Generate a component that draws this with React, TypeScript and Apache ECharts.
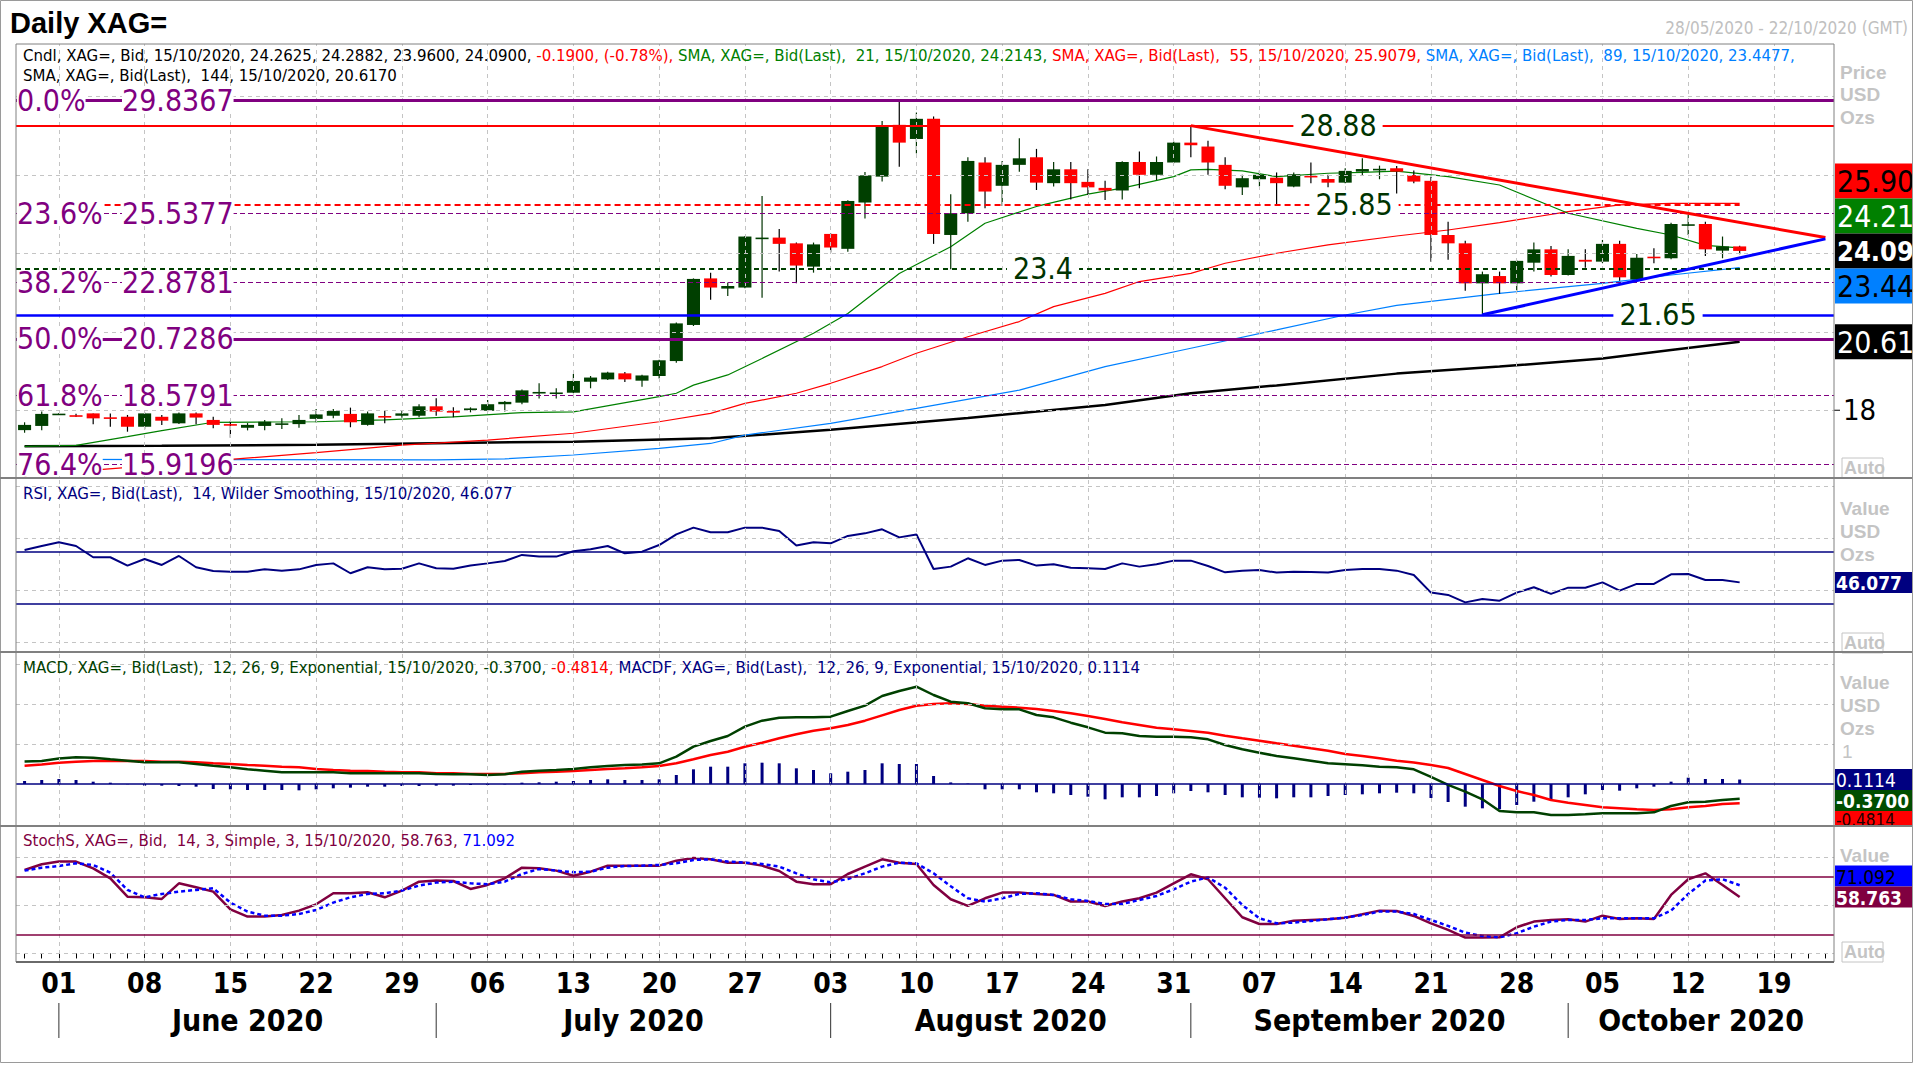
import React, { useEffect, useRef } from 'react';
import * as echarts from 'echarts';

const NARROW = '"DejaVu Sans Condensed","Liberation Sans Narrow","Arial Narrow",sans-serif';
const SANS = '"Liberation Sans",Arial,sans-serif';

// ---- categories: weekdays 28/05/2020 - 22/10/2020 ----
function buildDates(): string[] {
  const out: string[] = [];
  const d = new Date(Date.UTC(2020, 4, 28));
  const end = Date.UTC(2020, 9, 22);
  while (d.getTime() <= end) {
    const wd = d.getUTCDay();
    if (wd !== 0 && wd !== 6) out.push(d.toISOString().slice(0, 10));
    d.setUTCDate(d.getUTCDate() + 1);
  }
  return out;
}
const DATES = buildDates();
const isMonday = (s: string) => new Date(s + 'T00:00:00Z').getUTCDay() === 1;
const MONTH_NAMES = ['January', 'February', 'March', 'April', 'May', 'June', 'July', 'August', 'September', 'October', 'November', 'December'];

// ---- candles (28/05 .. 15/10) ----
const OPEN = [17.24, 17.40, 17.86, 17.81, 17.88, 17.73, 17.75, 17.37, 17.75, 17.50,
  17.88, 17.63, 17.47, 17.33, 17.40, 17.44, 17.47, 17.67, 17.79, 17.86,
  17.44, 17.78, 17.79, 17.79, 18.15, 17.97, 18.02, 17.98, 18.23, 18.29,
  18.67, 18.66, 18.67, 19.09, 19.18, 19.41, 19.13, 19.31, 19.88, 21.26,
  23.04, 22.65, 22.69, 24.57, 24.60, 24.38, 23.49, 24.74, 24.17, 25.94,
  26.93, 28.91, 28.37, 29.14, 24.70, 25.53, 27.47, 26.58, 27.38, 27.67,
  26.68, 27.21, 26.73, 26.50, 26.40, 27.49, 27.00, 27.47, 28.23, 28.08,
  27.38, 26.52, 26.83, 26.89, 26.55, 26.96, 26.84, 26.70, 27.12, 27.21,
  27.25, 26.99, 26.77, 24.70, 24.38, 22.85, 23.13, 22.85, 23.64, 24.15,
  23.17, 23.75, 23.68, 24.36, 23.00, 23.87, 23.81, 25.06, 25.12, 24.10, 24.2625];
const CLOSE = [17.44, 17.86, 17.87, 17.80, 17.69, 17.72, 17.37, 17.88, 17.60, 17.88,
  17.72, 17.44, 17.44, 17.44, 17.56, 17.50, 17.63, 17.84, 17.97, 17.54,
  17.88, 17.74, 17.88, 18.15, 17.95, 17.91, 18.07, 18.23, 18.32, 18.76,
  18.70, 18.68, 19.12, 19.25, 19.44, 19.18, 19.33, 19.91, 21.32, 23.02,
  22.69, 22.75, 24.64, 24.60, 24.36, 23.53, 24.34, 24.22, 26.00, 26.98,
  28.84, 28.23, 29.14, 24.74, 25.53, 27.53, 26.36, 27.38, 27.63, 26.70,
  27.21, 26.68, 26.52, 26.40, 27.49, 27.00, 27.49, 28.23, 28.13, 27.47,
  26.58, 26.87, 27.00, 26.68, 27.02, 26.91, 26.70, 27.15, 27.22, 27.23,
  27.12, 26.74, 24.70, 24.38, 22.85, 23.20, 22.85, 23.71, 24.15, 23.17,
  23.90, 23.68, 24.36, 23.08, 23.83, 23.81, 25.12, 25.11, 24.15, 24.26, 24.09];
const LOW = [17.14, 17.24, 17.85, 17.74, 17.46, 17.37, 17.18, 17.27, 17.44, 17.47,
  17.46, 17.31, 16.95, 17.23, 17.24, 17.28, 17.33, 17.54, 17.69, 17.35,
  17.41, 17.50, 17.71, 17.73, 17.79, 17.73, 17.92, 17.95, 17.95, 18.23,
  18.45, 18.45, 18.65, 18.84, 19.16, 19.08, 18.90, 19.21, 19.82, 21.22,
  22.22, 22.37, 22.66, 22.30, 23.30, 22.85, 23.26, 24.03, 24.06, 25.33,
  26.74, 27.31, 27.82, 24.36, 23.39, 25.21, 25.72, 25.81, 27.12, 26.42,
  26.55, 26.06, 26.23, 26.04, 26.06, 26.49, 26.80, 27.44, 27.67, 27.00,
  26.45, 26.23, 26.55, 25.81, 26.52, 26.68, 26.52, 26.68, 26.96, 26.83,
  26.23, 26.68, 23.68, 23.75, 22.57, 21.65, 22.45, 22.57, 23.30, 23.11,
  23.15, 23.45, 23.62, 22.95, 22.92, 23.62, 23.77, 24.70, 23.90, 23.81, 23.96];
const HIGH = [17.54, 17.95, 17.89, 17.87, 17.88, 17.88, 17.82, 17.91, 17.82, 17.91,
  17.91, 17.75, 17.59, 17.51, 17.63, 17.69, 17.82, 18.05, 18.05, 18.10,
  17.95, 17.97, 17.97, 18.23, 18.46, 18.11, 18.11, 18.39, 18.35, 18.79,
  19.03, 18.84, 19.39, 19.31, 19.47, 19.46, 19.36, 19.93, 21.35, 23.04,
  23.26, 22.88, 24.66, 26.19, 24.93, 24.41, 24.41, 24.76, 26.03, 27.11,
  29.06, 29.8367, 29.38, 29.23, 26.26, 27.67, 27.67, 27.53, 28.40, 27.99,
  27.49, 27.49, 27.21, 26.77, 27.52, 27.89, 27.70, 28.27, 28.88, 28.30,
  27.67, 27.00, 27.16, 27.09, 27.09, 27.47, 27.00, 27.25, 27.63, 27.35,
  27.34, 27.16, 26.93, 25.21, 24.48, 23.30, 23.30, 23.73, 24.41, 24.28,
  24.15, 24.15, 24.51, 24.48, 23.97, 24.19, 25.17, 25.47, 25.21, 24.64, 24.2882];

// ---- moving averages [index, value] ----
const SMA21 = [[0, 16.62], [3, 16.66], [6, 16.99], [8, 17.22], [11, 17.54], [14, 17.55], [17, 17.56], [21, 17.63], [25, 17.75], [29, 17.91], [32, 17.94], [37, 18.52], [38, 18.65], [39, 18.96], [41, 19.35], [43, 19.98], [46, 20.94], [48, 21.70], [51, 23.23], [54, 24.25], [56, 25.15], [59, 25.79], [62, 26.26], [64, 26.49], [67, 26.93], [68, 27.19], [69, 27.21], [71, 27.15], [73, 26.93], [76, 27.06], [78, 27.09], [80, 27.14], [83, 26.93], [86, 26.61], [90, 25.53], [94, 24.95], [96, 24.70], [98, 24.30], [100, 24.21]];
const SMA55 = [[0, 15.50], [4, 15.71], [12, 16.12], [17, 16.38], [22, 16.67], [27, 16.86], [32, 17.12], [37, 17.56], [40, 17.88], [42, 18.26], [45, 18.65], [47, 19.03], [50, 19.67], [52, 20.18], [55, 20.81], [58, 21.39], [60, 21.96], [63, 22.47], [65, 22.92], [68, 23.23], [70, 23.62], [73, 24.00], [76, 24.32], [80, 24.66], [83, 24.89], [86, 25.17], [90, 25.59], [93, 25.85], [96, 25.91], [100, 25.91]];
const SMA89 = [[0, 16.12], [12, 16.11], [24, 16.10], [28, 16.14], [32, 16.29], [37, 16.54], [40, 16.73], [42, 17.05], [47, 17.50], [52, 18.07], [58, 18.77], [63, 19.67], [68, 20.37], [73, 21.07], [77, 21.64], [80, 22.01], [86, 22.47], [92, 22.85], [96, 23.17], [100, 23.45]];
const SMA144 = [[0, 16.62], [8, 16.64], [17, 16.68], [25, 16.75], [32, 16.80], [40, 16.93], [47, 17.25], [55, 17.70], [63, 18.20], [68, 18.65], [73, 18.95], [80, 19.40], [86, 19.67], [92, 19.98], [96, 20.30], [100, 20.62]];

// ---- trend lines ----
const DOWN_TREND = [[68, 28.88], [105, 24.60]];
const UP_TREND = [[85, 21.65], [105, 24.55]];

// ---- horizontal levels ----
const FIB_LEVELS = [29.8367, 25.5377, 22.8781, 20.7286, 18.5791, 15.9196];
const FIB_PCTS = ['0.0%', '23.6%', '38.2%', '50.0%', '61.8%', '76.4%'];
const LEVEL_LABELS = [
  { v: 28.88, text: '28.88', cx: 1338 },
  { v: 25.85, text: '25.85', cx: 1354 },
  { v: 23.4, text: '23.4', cx: 1043 },
  { v: 21.65, text: '21.65', cx: 1658 },
];
// right-axis value tags (price panel)
const TAGS = [
  { v: 25.9079, text: '25.90', bg: '#ff0000', c: '#000', w: 'normal', s: 30 },
  { v: 24.2143, text: '24.21', bg: '#008000', c: '#fff', w: 'normal', s: 30 },
  { v: 24.09, text: '24.09', bg: '#000000', c: '#fff', w: 'bold', s: 27 },
  { v: 23.4477, text: '23.44', bg: '#0080ff', c: '#000', w: 'normal', s: 30 },
  { v: 20.617, text: '20.61', bg: '#000000', c: '#fff', w: 'normal', s: 30 },
];

// ---- indicators ----
const RSI = [71.0, 74.0, 76.9, 74.1, 65.4, 65.4, 59.0, 64.1, 59.5, 66.4,
  57.7, 54.8, 54.3, 54.3, 56.1, 55.1, 56.1, 59.5, 60.7, 53.1,
  57.7, 56.1, 56.6, 60.7, 56.9, 56.6, 59.0, 60.7, 62.5, 67.2,
  65.9, 65.9, 70.0, 71.5, 74.1, 68.4, 69.7, 74.8, 83.0, 88.2,
  84.6, 84.6, 88.2, 88.2, 85.6, 74.4, 76.9, 76.1, 81.8, 83.8,
  86.9, 80.7, 83.0, 56.4, 58.2, 64.6, 59.5, 62.8, 63.3, 59.0,
  60.0, 57.4, 56.9, 56.4, 60.7, 58.2, 60.0, 62.8, 62.8, 58.7,
  53.8, 55.1, 55.6, 53.6, 54.3, 54.1, 53.6, 55.6, 56.4, 56.4,
  55.1, 51.8, 38.2, 36.4, 30.7, 33.3, 32.0, 38.2, 42.3, 37.2,
  42.0, 42.0, 46.1, 39.7, 44.9, 44.9, 52.3, 52.5, 47.9, 47.9, 46.077];
const MACD = [0.56, 0.575, 0.64, 0.667, 0.658, 0.617, 0.583, 0.542, 0.542, 0.542,
  0.50, 0.458, 0.417, 0.367, 0.333, 0.292, 0.292, 0.292, 0.292, 0.267,
  0.267, 0.267, 0.267, 0.267, 0.25, 0.242, 0.242, 0.225, 0.242, 0.308,
  0.333, 0.35, 0.375, 0.417, 0.45, 0.475, 0.49, 0.517, 0.683, 0.933,
  1.075, 1.20, 1.433, 1.583, 1.658, 1.667, 1.667, 1.683, 1.825, 1.958,
  2.20, 2.325, 2.433, 2.225, 2.058, 2.017, 1.892, 1.867, 1.867, 1.725,
  1.667, 1.533, 1.417, 1.283, 1.267, 1.20, 1.183, 1.183, 1.167, 1.117,
  0.975, 0.867, 0.783, 0.70, 0.642, 0.583, 0.517, 0.492, 0.467, 0.433,
  0.417, 0.367, 0.18, -0.02, -0.192, -0.383, -0.675, -0.708, -0.708, -0.775,
  -0.775, -0.758, -0.733, -0.733, -0.733, -0.708, -0.55, -0.458, -0.442, -0.40, -0.37];
const SIGNAL = [0.458, 0.49, 0.533, 0.558, 0.575, 0.583, 0.575, 0.575, 0.558, 0.558,
  0.542, 0.517, 0.50, 0.475, 0.458, 0.433, 0.417, 0.375, 0.35, 0.333,
  0.325, 0.308, 0.292, 0.292, 0.267, 0.267, 0.25, 0.25, 0.25, 0.267,
  0.292, 0.308, 0.325, 0.35, 0.375, 0.392, 0.417, 0.45, 0.517, 0.617,
  0.725, 0.808, 0.933, 1.033, 1.142, 1.242, 1.333, 1.392, 1.475, 1.583,
  1.717, 1.85, 1.958, 2.0, 2.017, 2.0, 1.958, 1.933, 1.908, 1.875,
  1.825, 1.767, 1.70, 1.625, 1.542, 1.475, 1.408, 1.367, 1.325, 1.283,
  1.208, 1.142, 1.083, 1.017, 0.958, 0.892, 0.833, 0.75, 0.70, 0.642,
  0.583, 0.54, 0.475, 0.40, 0.25, 0.10, -0.05, -0.175, -0.275, -0.40,
  -0.467, -0.525, -0.583, -0.608, -0.633, -0.65, -0.633, -0.583, -0.55, -0.50, -0.4814];
const HIST = [0.075, 0.10, 0.125, 0.10, 0.058, 0.033, -0.008, -0.042, -0.042, -0.05,
  -0.067, -0.125, -0.133, -0.15, -0.15, -0.15, -0.158, -0.133, -0.108, -0.092,
  -0.067, -0.067, -0.05, -0.05, -0.042, -0.042, -0.025, -0.025, -0.01, 0.033,
  0.042, 0.058, 0.075, 0.10, 0.117, 0.10, 0.10, 0.117, 0.225, 0.367,
  0.433, 0.433, 0.517, 0.533, 0.517, 0.392, 0.35, 0.267, 0.308, 0.35,
  0.517, 0.50, 0.50, 0.20, 0.04, 0.01, -0.133, -0.133, -0.133, -0.208,
  -0.233, -0.275, -0.317, -0.383, -0.333, -0.333, -0.30, -0.233, -0.175, -0.208,
  -0.275, -0.333, -0.342, -0.358, -0.333, -0.333, -0.30, -0.275, -0.258, -0.233,
  -0.217, -0.233, -0.35, -0.45, -0.567, -0.608, -0.633, -0.525, -0.442, -0.383,
  -0.333, -0.258, -0.15, -0.167, -0.108, -0.067, 0.058, 0.158, 0.125, 0.125, 0.1114];
const STOCH_K = [87.0, 92.9, 95.7, 95.7, 88.7, 78.3, 59.2, 58.5, 56.8, 73.1,
  68.9, 64.4, 46.0, 38.4, 38.4, 40.1, 44.6, 51.2, 62.7, 62.7,
  63.7, 58.5, 65.5, 74.8, 75.9, 75.5, 67.2, 71.4, 78.3, 89.4,
  88.7, 86.3, 81.0, 85.2, 91.5, 91.5, 91.5, 91.5, 96.7, 99.5,
  98.1, 94.6, 94.6, 91.5, 85.9, 74.8, 72.1, 72.1, 82.8, 90.5,
  98.1, 94.6, 93.2, 71.4, 56.5, 49.5, 57.5, 63.4, 63.4, 62.0,
  61.0, 54.1, 54.1, 49.5, 54.1, 57.5, 63.4, 73.1, 82.5, 77.3,
  57.5, 37.7, 30.7, 30.7, 34.2, 34.9, 35.6, 37.3, 40.8, 44.6,
  44.3, 39.1, 31.4, 24.5, 16.5, 16.5, 16.8, 27.3, 33.2, 34.9,
  35.6, 33.2, 39.4, 35.9, 36.6, 35.9, 61.0, 77.3, 83.5, 71.4, 58.763];
const STOCH_D = [86.3, 89.4, 91.1, 93.9, 92.2, 84.2, 66.2, 58.5, 62.0, 64.4,
  66.2, 67.9, 53.0, 43.6, 39.4, 39.4, 41.1, 45.3, 53.0, 58.5,
  62.0, 62.7, 65.5, 70.7, 73.8, 74.8, 73.1, 72.1, 74.8, 82.8,
  88.0, 86.3, 84.6, 85.2, 89.4, 91.1, 91.5, 92.2, 93.9, 97.4,
  98.1, 95.7, 94.6, 93.2, 90.5, 83.5, 77.3, 74.1, 77.6, 83.5,
  90.5, 94.6, 93.9, 83.5, 70.0, 57.5, 54.1, 57.5, 62.0, 62.7,
  61.0, 56.4, 54.7, 51.6, 51.6, 55.7, 59.9, 66.8, 74.8, 79.3,
  68.5, 50.5, 36.6, 31.4, 32.1, 33.9, 35.6, 37.3, 40.1, 43.6,
  43.6, 41.1, 34.9, 28.7, 21.7, 18.2, 16.8, 21.0, 27.9, 33.2,
  34.9, 34.9, 36.6, 36.6, 36.6, 36.6, 44.6, 62.0, 75.9, 77.3, 71.092];

// ---- panel gridlines / reference levels ----
const PRICE_GRID = [18, 21, 24, 27, 30];
const RSI_GRID = [0, 40, 80, 120];
const MACD_GRID = [1, 2, 3];
const STOCH_GRID = [0, 50, 100];
const RSI_LEVELS = [70, 30];
const STOCH_LEVELS = [80, 20];

const PANELS = [
  { top: 44, height: 434, min: 15.41, max: 32.0 },
  { top: 478, height: 174, min: -7.5, max: 126.4 },
  { top: 652, height: 174, min: -1.05, max: 3.3 },
  { top: 826, height: 136, min: -8.9, max: 132.8 },
];

const MONDAYS = DATES.filter(isMonday);

const BIG = 30;      // big annotation font
const HDR = 16.7;    // header font

function gridSeries(k: number, hv: number[]) {
  return {
    type: 'line', xAxisIndex: k, yAxisIndex: k, data: [], z: 1, silent: true,
    markLine: {
      silent: true, symbol: ['none', 'none'], label: { show: false }, animation: false,
      lineStyle: { color: '#c4c4c4', width: 1, type: [4, 4] },
      data: [...MONDAYS.map((m) => ({ xAxis: m })), ...hv.map((v) => ({ yAxis: v }))],
    },
  };
}

function buildOption(): any {
  const ml = (v: number, color: string, width: number, type: any) => ({ yAxis: v, lineStyle: { color, width, type } });
  return {
    animation: false,
    backgroundColor: '#ffffff',
    grid: PANELS.map((p) => ({ left: 16, right: 80, top: p.top, height: p.height })),
    xAxis: PANELS.map((_, k) => ({
      type: 'category', data: DATES, gridIndex: k, boundaryGap: true,
      axisLine: { show: false },
      axisTick: k === 3 ? { show: true, interval: 0, alignWithLabel: true, length: 5, lineStyle: { color: '#000' } } : { show: false },
      axisLabel: k === 3 ? {
        show: true, interval: (_i: number, v: string) => isMonday(v), formatter: (v: string) => v.slice(8, 10),
        fontFamily: NARROW, fontSize: 28, fontWeight: 'bold', color: '#000', margin: 7,
      } : { show: false },
      splitLine: { show: false },
    })),
    yAxis: PANELS.map((p, k) => ({
      type: 'value', gridIndex: k, min: p.min, max: p.max, position: 'right',
      axisLine: { show: false }, axisTick: { show: false }, axisLabel: { show: false }, splitLine: { show: false },
    })),
    series: [
      gridSeries(0, PRICE_GRID), gridSeries(1, RSI_GRID), gridSeries(2, MACD_GRID), gridSeries(3, STOCH_GRID),
      {
        type: 'line', xAxisIndex: 0, yAxisIndex: 0, data: [], z: 2, silent: true,
        markLine: {
          silent: true, symbol: ['none', 'none'], label: { show: false }, animation: false,
          data: [
            ml(FIB_LEVELS[0], '#800080', 3, 'solid'),
            ml(28.88, '#ff0000', 2, 'solid'),
            ml(FIB_LEVELS[1], '#800080', 1, [5, 3]),
            [{ coord: [0, 25.85], lineStyle: { color: '#ff0000', width: 2, type: [6, 4] } }, { coord: [100, 25.85] }],
            ml(23.4, '#004000', 2, [5, 4]),
            ml(FIB_LEVELS[2], '#800080', 1, [5, 3]),
            ml(21.65, '#0000ff', 2.5, 'solid'),
            ml(FIB_LEVELS[3], '#800080', 3, 'solid'),
            ml(FIB_LEVELS[4], '#800080', 1, [5, 3]),
            ml(FIB_LEVELS[5], '#800080', 1, [5, 3]),
          ],
        },
      },
      { type: 'line', xAxisIndex: 0, yAxisIndex: 0, data: SMA144, showSymbol: false, z: 3, lineStyle: { color: '#000', width: 2.5 } },
      { type: 'line', xAxisIndex: 0, yAxisIndex: 0, data: SMA89, showSymbol: false, z: 3, lineStyle: { color: '#0080ff', width: 1.2 } },
      { type: 'line', xAxisIndex: 0, yAxisIndex: 0, data: SMA55, showSymbol: false, z: 3, lineStyle: { color: '#ff0000', width: 1.2 } },
      { type: 'line', xAxisIndex: 0, yAxisIndex: 0, data: SMA21, showSymbol: false, z: 3, lineStyle: { color: '#008000', width: 1.2 } },
      {
        type: 'custom', xAxisIndex: 0, yAxisIndex: 0, z: 4,
        data: OPEN.map((o, i) => [i, o, CLOSE[i], LOW[i], HIGH[i]]),
        encode: { x: 0, y: [1, 2, 3, 4] },
        renderItem: (_p: any, api: any) => {
          const i = api.value(0);
          const o = api.value(1), c = api.value(2), l = api.value(3), h = api.value(4);
          const pO = api.coord([i, o]);
          const pC = api.coord([i, c]);
          const pL = api.coord([i, l]);
          const pH = api.coord([i, h]);
          const w = api.size([1, 0])[0] * 0.76;
          const up = c >= o;
          const top = Math.min(pO[1], pC[1]);
          const bh = Math.max(Math.abs(pO[1] - pC[1]), 1.6);
          return {
            type: 'group',
            children: [
              { type: 'line', shape: { x1: pH[0], y1: pH[1], x2: pL[0], y2: pL[1] }, style: { stroke: up ? '#003300' : '#000000', lineWidth: 1.2 } },
              { type: 'rect', shape: { x: pO[0] - w / 2, y: top, width: w, height: bh }, style: { fill: up ? '#003f00' : '#ff0000' } },
            ],
          };
        },
      },
      { type: 'line', xAxisIndex: 0, yAxisIndex: 0, data: DOWN_TREND, showSymbol: false, z: 5, lineStyle: { color: '#ff0000', width: 3 } },
      { type: 'line', xAxisIndex: 0, yAxisIndex: 0, data: UP_TREND, showSymbol: false, z: 5, lineStyle: { color: '#0000ff', width: 3 } },
      // RSI
      {
        type: 'line', xAxisIndex: 1, yAxisIndex: 1, data: RSI, showSymbol: false, z: 3, lineStyle: { color: '#000080', width: 2 },
        markLine: { silent: true, symbol: ['none', 'none'], label: { show: false }, animation: false, lineStyle: { color: '#000080', width: 1.5, type: 'solid' }, data: RSI_LEVELS.map((v) => ({ yAxis: v })) },
      },
      // MACD
      {
        type: 'bar', xAxisIndex: 2, yAxisIndex: 2, data: HIST, barWidth: 3, z: 2, itemStyle: { color: '#000080' },
        markLine: { silent: true, symbol: ['none', 'none'], label: { show: false }, animation: false, lineStyle: { color: '#000080', width: 1.5, type: 'solid' }, data: [{ yAxis: 0 }] },
      },
      { type: 'line', xAxisIndex: 2, yAxisIndex: 2, data: SIGNAL, showSymbol: false, z: 3, lineStyle: { color: '#ff0000', width: 2.5 } },
      { type: 'line', xAxisIndex: 2, yAxisIndex: 2, data: MACD, showSymbol: false, z: 4, lineStyle: { color: '#004000', width: 2.5 } },
      // Stochastic
      {
        type: 'line', xAxisIndex: 3, yAxisIndex: 3, data: STOCH_K, showSymbol: false, z: 3, lineStyle: { color: '#800040', width: 2.5 },
        markLine: { silent: true, symbol: ['none', 'none'], label: { show: false }, animation: false, lineStyle: { color: '#800040', width: 1.5, type: 'solid' }, data: STOCH_LEVELS.map((v) => ({ yAxis: v })) },
      },
      { type: 'line', xAxisIndex: 3, yAxisIndex: 3, data: STOCH_D, showSymbol: false, z: 4, lineStyle: { color: '#0000ff', width: 2.5, type: [4, 3] } },
    ],
  };
}

function txt(x: number, y: number, text: string, o: any = {}) {
  const style: any = {
    text, fill: o.fill || '#000', fontSize: o.size || 18, fontFamily: o.family || NARROW,
    fontWeight: o.weight || 'normal', align: o.align || 'left', verticalAlign: 'middle',
  };
  if (o.bg) style.backgroundColor = o.bg;
  if (o.pad) style.padding = o.pad;
  if (o.lh) style.lineHeight = o.lh;
  if (o.rich) style.rich = o.rich;
  return { type: 'text', x, y, z: o.z || 100, silent: true, style };
}
const rect = (x: number, y: number, w: number, h: number, fill: string, z = 100, stroke?: string) =>
  ({ type: 'rect', z, silent: true, shape: { x, y, width: w, height: h }, style: stroke ? { fill: 'none', stroke, lineWidth: 1 } : { fill } });
const line = (x1: number, y1: number, x2: number, y2: number, stroke: string, w = 1, z = 100) =>
  ({ type: 'line', z, silent: true, shape: { x1, y1, x2, y2 }, style: { stroke, lineWidth: w } });

function buildGraphics(chart: any): any[] {
  const yp = (k: number, v: number) => chart.convertToPixel({ yAxisIndex: k }, v) as number;
  const xp = (i: number) => chart.convertToPixel({ xAxisIndex: 3 }, DATES[i]) as number;
  const band = xp(1) - xp(0);
  const left = xp(0) - band / 2;
  const right = xp(DATES.length - 1) + band / 2;
  const g: any[] = [];

  // title / headers
  g.push(txt(10, 23, 'Daily XAG=', { family: SANS, size: 29, weight: 'bold' }));
  g.push(txt(1908, 28, '28/05/2020 - 22/10/2020 (GMT)', { fill: '#c0c0c0', size: 17, align: 'right' }));
  const R = (c: string) => ({ fill: c, color: c, fontSize: HDR, fontFamily: NARROW });
  g.push(txt(23, 55, '{k|Cndl, XAG=, Bid, 15/10/2020, 24.2625, 24.2882, 23.9600, 24.0900, }{r|-0.1900, (-0.78%), }{g|SMA, XAG=, Bid(Last),  21, 15/10/2020, 24.2143, }{r|SMA, XAG=, Bid(Last),  55, 15/10/2020, 25.9079, }{b|SMA, XAG=, Bid(Last),  89, 15/10/2020, 23.4477,}',
    { size: HDR, rich: { k: R('#000000'), r: R('#ff0000'), g: R('#008000'), b: R('#0080ff') } }));
  g.push(txt(23, 75, 'SMA, XAG=, Bid(Last),  144, 15/10/2020, 20.6170', { size: HDR }));
  g.push(txt(23, 493, 'RSI, XAG=, Bid(Last),  14, Wilder Smoothing, 15/10/2020, 46.077', { size: HDR, fill: '#000080' }));
  g.push(txt(23, 667, '{g|MACD, XAG=, Bid(Last),  12, 26, 9, Exponential, 15/10/2020, -0.3700, }{r|-0.4814, }{n|MACDF, XAG=, Bid(Last),  12, 26, 9, Exponential, 15/10/2020, 0.1114}',
    { size: HDR, rich: { g: R('#004000'), r: R('#ff0000'), n: R('#000080') } }));
  g.push(txt(23, 840, '{m|StochS, XAG=, Bid,  14, 3, Simple, 3, 15/10/2020, 58.763, }{b|71.092}',
    { size: HDR, rich: { m: R('#800040'), b: R('#0000ff') } }));

  // fibonacci labels
  FIB_LEVELS.forEach((v, j) => {
    const y = yp(0, v);
    g.push(txt(17, y, FIB_PCTS[j], { fill: '#800080', size: BIG, bg: '#ffffff', lh: 23 }));
    g.push(txt(122, y, v.toFixed(4), { fill: '#800080', size: BIG, bg: '#ffffff', lh: 23 }));
  });
  LEVEL_LABELS.forEach((l) => {
    g.push(txt(l.cx, yp(0, l.v), l.text, { fill: '#003300', size: BIG, bg: '#ffffff', lh: 23, align: 'center', pad: [0, 6] }));
  });

  // right axis: price
  const ax = right + 1;
  const bw = 1912 - ax;
  const y18 = yp(0, 18);
  g.push(line(right, y18, right + 6, y18, '#000', 1));
  g.push(txt(right + 9, y18, '18', { size: 29 }));
  // stacked tags around the last close (24.09)
  const t0 = yp(0, 24.09) - 17.5;
  const tops = [t0 - 70, t0 - 35, t0, t0 + 35, yp(0, 20.617) - 17.5];
  TAGS.forEach((b, j) => {
    g.push(rect(ax, tops[j], bw, 35, b.bg, 110));
    g.push(txt(ax + 2, tops[j] + 18, b.text, { size: b.s, fill: b.c, weight: b.w, z: 111 }));
  });

  // right axis: indicators
  const SM = 19;
  const rsiT = yp(1, 46.077) - 10.5;
  g.push(rect(ax, rsiT, bw, 21, '#000080', 110));
  g.push(txt(ax + 1, rsiT + 11, '46.077', { size: SM, fill: '#fff', weight: 'bold', z: 111 }));
  const m1 = yp(2, 0.1114) - 10.5;
  const m2 = Math.max(yp(2, -0.37) - 10.5, m1 + 21);
  const m3 = m2 + 21;
  g.push(rect(ax, m1, bw, 21, '#000080', 110));
  g.push(txt(ax + 1, m1 + 11, '0.1114', { size: SM, fill: '#fff', z: 111 }));
  g.push(rect(ax, m3, bw, 826 - m3, '#ff0000', 110));
  g.push(txt(ax + 1, m3 + 9, '-0.4814', { size: 17, fill: '#200000', z: 111 }));
  g.push(rect(ax, m2, bw, 21, '#004d00', 112));
  g.push(txt(ax + 1, m2 + 11, '-0.3700', { size: SM, fill: '#fff', weight: 'bold', z: 113 }));
  g.push(rect(ax, 827, bw, 18, '#ffffff', 114));
  const s2 = yp(3, 58.763) - 10.5;
  const s1 = s2 - 21;
  g.push(rect(ax, s1, bw, 21, '#0000ff', 110));
  g.push(txt(ax + 1, s1 + 11, '71.092', { size: SM, fill: '#000', z: 111 }));
  g.push(rect(ax, s2, bw, 21, '#800040', 110));
  g.push(txt(ax + 1, s2 + 11, '58.763', { size: SM, fill: '#fff', weight: 'bold', z: 111 }));

  const gray = (x: number, y: number, t: string) => txt(x, y, t, { family: SANS, size: 19, weight: 'bold', fill: '#c4c4c4', z: 105 });
  [['Price', 72], ['USD', 94], ['Ozs', 117], ['Value', 508], ['USD', 531], ['Ozs', 554], ['Value', 682], ['USD', 705], ['Ozs', 728], ['Value', 855]]
    .forEach(([t, y]) => g.push(gray(right + 6, y as number, t as string)));
  g.push(txt(right + 8, 751, '1', { family: SANS, size: 19, fill: '#c4c4c4', z: 105 }));
  [458, 633, 942].forEach((y) => {
    g.push(rect(right + 8, y, 41, 20, '', 105, '#c4c4c4'));
    g.push(txt(right + 10, y + 10, 'Auto', { family: SANS, size: 18, weight: 'bold', fill: '#c4c4c4', z: 106 }));
  });

  // frame
  g.push(rect(0.5, 0.5, 1912, 1062, '', 120, '#9a9a9a'));
  g.push(rect(left, 44, right - left, 918, '', 120, '#808080'));
  g.push(line(left, 962, right, 962, '#6a6a6a', 2, 120));
  [478, 652, 826].forEach((y) => g.push(line(0, y, 1912, y, '#808080', 2, 120)));

  // months
  const firsts: number[] = [];
  DATES.forEach((d, i) => { if (i === 0 || d.slice(5, 7) !== DATES[i - 1].slice(5, 7)) firsts.push(i); });
  const starts = firsts.filter((i) => i > 0);
  starts.forEach((i, j) => {
    const x = xp(i);
    g.push(line(x, 1003, x, 1038, '#303030', 1, 101));
    const xe = j + 1 < starts.length ? xp(starts[j + 1]) : right;
    const m = parseInt(DATES[i].slice(5, 7), 10) - 1;
    g.push(txt((x + xe) / 2, 1020, MONTH_NAMES[m] + ' ' + DATES[i].slice(0, 4), { size: 30, weight: 'bold', align: 'center' }));
  });
  return g;
}

export default function App() {
  const ref = useRef<HTMLDivElement>(null);
  useEffect(() => {
    const el = ref.current!;
    const chart = echarts.init(el, null, { renderer: 'svg' });
    chart.setOption(buildOption());
    chart.setOption({ graphic: buildGraphics(chart) });
    return () => chart.dispose();
  }, []);
  return <div ref={ref} style={{ position: 'fixed', left: 0, top: 0, width: 1914, height: 1065, background: '#fff' }} />;
}
